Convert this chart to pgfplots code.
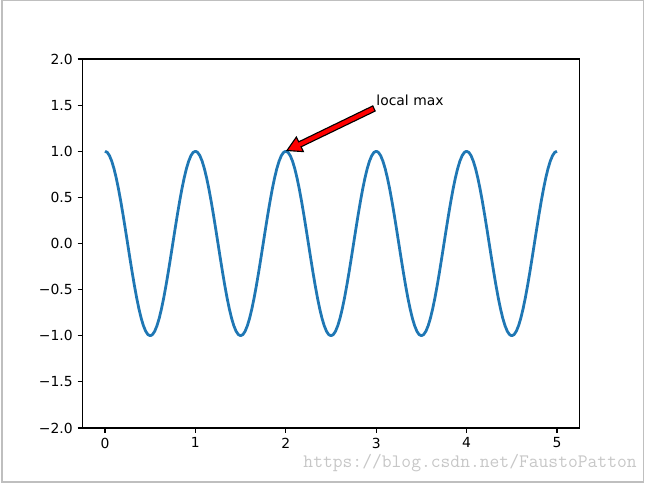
\documentclass[border=0pt]{standalone}
\usepackage{pgfplots}
\pgfplotsset{compat=1.18}
\usepackage{fontspec}
\setmainfont{DejaVu Sans}
\definecolor{mplblue}{HTML}{1F77B4}
\begin{document}
\begin{tikzpicture}
\useasboundingbox (0,0) rectangle (466.56pt,347.76pt);
\draw[color=black!25, line width=1.2pt] (1.4pt,0.9pt) rectangle (463.3pt,347.3pt);
\begin{axis}[
  at={(59.33pt,39.6pt)}, anchor=south west,
  scale only axis, width=357.98pt, height=265.68pt,
  xmin=-0.25, xmax=5.25, ymin=-2, ymax=2,
  xtick={0,1,2,3,4,5},
  ytick={-2,-1.5,-1,-0.5,0,0.5,1,1.5,2},
  yticklabels={−2.0,−1.5,−1.0,−0.5,0.0,0.5,1.0,1.5,2.0},
  /pgf/number format/assume math mode=true,
  tick align=outside, major tick length=3.5pt,
  tick style={line width=0.8pt, black},
  axis line style={line width=0.8pt},
  xtick pos=bottom, ytick pos=left,
  ticklabel style={font=\fontsize{10}{12}\selectfont},
  clip=false,
]
\addplot[mplblue, line width=2pt, line join=round] coordinates {
(0,1)(0.025,0.9877)(0.05,0.9511)(0.075,0.8910)(0.1,0.8090)(0.125,0.7071)(0.15,0.5878)(0.175,0.4540)(0.2,0.3090)(0.225,0.1564)(0.25,0)(0.275,-0.1564)(0.3,-0.3090)(0.325,-0.4540)(0.35,-0.5878)(0.375,-0.7071)(0.4,-0.8090)(0.425,-0.8910)(0.45,-0.9511)(0.475,-0.9877)(0.5,-1)(0.525,-0.9877)(0.55,-0.9511)(0.575,-0.8910)(0.6,-0.8090)(0.625,-0.7071)(0.65,-0.5878)(0.675,-0.4540)(0.7,-0.3090)(0.725,-0.1564)(0.75,0)(0.775,0.1564)(0.8,0.3090)(0.825,0.4540)(0.85,0.5878)(0.875,0.7071)(0.9,0.8090)(0.925,0.8910)(0.95,0.9511)(0.975,0.9877)
(1,1)(1.025,0.9877)(1.05,0.9511)(1.075,0.8910)(1.1,0.8090)(1.125,0.7071)(1.15,0.5878)(1.175,0.4540)(1.2,0.3090)(1.225,0.1564)(1.25,0)(1.275,-0.1564)(1.3,-0.3090)(1.325,-0.4540)(1.35,-0.5878)(1.375,-0.7071)(1.4,-0.8090)(1.425,-0.8910)(1.45,-0.9511)(1.475,-0.9877)(1.5,-1)(1.525,-0.9877)(1.55,-0.9511)(1.575,-0.8910)(1.6,-0.8090)(1.625,-0.7071)(1.65,-0.5878)(1.675,-0.4540)(1.7,-0.3090)(1.725,-0.1564)(1.75,0)(1.775,0.1564)(1.8,0.3090)(1.825,0.4540)(1.85,0.5878)(1.875,0.7071)(1.9,0.8090)(1.925,0.8910)(1.95,0.9511)(1.975,0.9877)
(2,1)(2.025,0.9877)(2.05,0.9511)(2.075,0.8910)(2.1,0.8090)(2.125,0.7071)(2.15,0.5878)(2.175,0.4540)(2.2,0.3090)(2.225,0.1564)(2.25,0)(2.275,-0.1564)(2.3,-0.3090)(2.325,-0.4540)(2.35,-0.5878)(2.375,-0.7071)(2.4,-0.8090)(2.425,-0.8910)(2.45,-0.9511)(2.475,-0.9877)(2.5,-1)(2.525,-0.9877)(2.55,-0.9511)(2.575,-0.8910)(2.6,-0.8090)(2.625,-0.7071)(2.65,-0.5878)(2.675,-0.4540)(2.7,-0.3090)(2.725,-0.1564)(2.75,0)(2.775,0.1564)(2.8,0.3090)(2.825,0.4540)(2.85,0.5878)(2.875,0.7071)(2.9,0.8090)(2.925,0.8910)(2.95,0.9511)(2.975,0.9877)
(3,1)(3.025,0.9877)(3.05,0.9511)(3.075,0.8910)(3.1,0.8090)(3.125,0.7071)(3.15,0.5878)(3.175,0.4540)(3.2,0.3090)(3.225,0.1564)(3.25,0)(3.275,-0.1564)(3.3,-0.3090)(3.325,-0.4540)(3.35,-0.5878)(3.375,-0.7071)(3.4,-0.8090)(3.425,-0.8910)(3.45,-0.9511)(3.475,-0.9877)(3.5,-1)(3.525,-0.9877)(3.55,-0.9511)(3.575,-0.8910)(3.6,-0.8090)(3.625,-0.7071)(3.65,-0.5878)(3.675,-0.4540)(3.7,-0.3090)(3.725,-0.1564)(3.75,0)(3.775,0.1564)(3.8,0.3090)(3.825,0.4540)(3.85,0.5878)(3.875,0.7071)(3.9,0.8090)(3.925,0.8910)(3.95,0.9511)(3.975,0.9877)
(4,1)(4.025,0.9877)(4.05,0.9511)(4.075,0.8910)(4.1,0.8090)(4.125,0.7071)(4.15,0.5878)(4.175,0.4540)(4.2,0.3090)(4.225,0.1564)(4.25,0)(4.275,-0.1564)(4.3,-0.3090)(4.325,-0.4540)(4.35,-0.5878)(4.375,-0.7071)(4.4,-0.8090)(4.425,-0.8910)(4.45,-0.9511)(4.475,-0.9877)(4.5,-1)(4.525,-0.9877)(4.55,-0.9511)(4.575,-0.8910)(4.6,-0.8090)(4.625,-0.7071)(4.65,-0.5878)(4.675,-0.4540)(4.7,-0.3090)(4.725,-0.1564)(4.75,0)(4.775,0.1564)(4.8,0.3090)(4.825,0.4540)(4.85,0.5878)(4.875,0.7071)(4.9,0.8090)(4.925,0.8910)(4.95,0.9511)(4.975,0.9877)
(5,1)
};
\draw[fill=red, draw=black, line width=0.8pt, line join=miter]
  (axis cs:2.989,1.436) -- (axis cs:2.962,1.491) -- (axis cs:2.143,1.102)
  -- (axis cs:2.117,1.154) -- (axis cs:2.013,1.008) -- (axis cs:2.195,0.996)
  -- (axis cs:2.169,1.048) -- cycle;
\node[anchor=base west, inner sep=0pt, font=\fontsize{10}{12}\selectfont] at (axis cs:3,1.5) {local max};
\end{axis}
\node[anchor=base east, inner sep=0pt, text=black!22, font=\ttfamily\fontsize{13.7}{15}\selectfont] at (458.6pt,10.8pt) {https://blog.csdn.net/FaustoPatton};
\end{tikzpicture}
\end{document}
